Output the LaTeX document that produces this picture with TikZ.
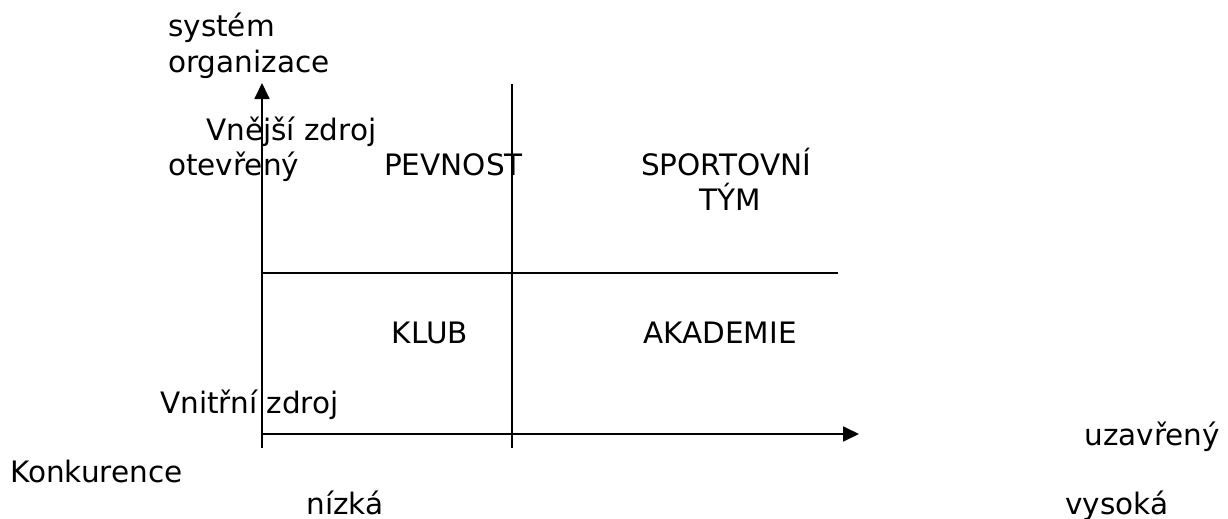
\documentclass[tikz,border=0pt]{standalone}
\usepackage{fontspec}
\setmainfont{DejaVu Sans}
\usetikzlibrary{arrows.meta}
\tikzset{
  every picture/.style={line join=round, >={Triangle[length=16pt,width=15pt]}},
  axis/.style={line width=1.8pt},
  label/.style={inner sep=0pt, font=\fontsize{29.5}{34}\selectfont},
}

\begin{document}
\begin{tikzpicture}[x=1pt,y=-1pt]
\useasboundingbox (0,0) rectangle (1228,519);
% axes
\coordinate (o) at (262,434);
\coordinate (ytop) at (262,83);
\coordinate (ybot) at (262,448);
\coordinate (xend) at (859,434);
\coordinate (xbeg) at (262,434);
\draw[axis,->] (ybot) -- (ytop);
\draw[axis,->] (xbeg) -- (xend);
% dividers
\coordinate (vtop) at (512,84);
\coordinate (vbot) at (512,448);
\coordinate (hleft) at (262,273);
\coordinate (hright) at (838,273);
\draw[axis] (vtop) -- (vbot);
\draw[axis] (hleft) -- (hright);
% axis labels
\node[label,anchor=base west] (sys) at (168,37) {systém};
\node[label,anchor=base west] (org) at (168,72) {organizace};
\node[label,anchor=base west] (vne) at (206,140) {Vnější zdroj};
\node[label,anchor=base west] (ote) at (168,175) {otevřený};
\node[label,anchor=base west] (vni) at (160,413) {Vnitřní zdroj};
\node[label,anchor=base east] (uza) at (1220,445) {uzavřený};
\node[label,anchor=base west] (kon) at (10,482) {Konkurence};
\node[label,anchor=base] (niz) at (345,514) {nízká};
\node[label,anchor=base] (vys) at (1117,514) {vysoká};
% quadrants
\node[label,anchor=base west] (pev) at (384,175) {PEVNOST};
\node[label,anchor=base west] (spo) at (641,175) {SPORTOVNÍ};
\node[label,anchor=base] (tym) at (730,210) {TÝM};
\node[label,anchor=base] (klub) at (430,343) {KLUB};
\node[label,anchor=base] (aka) at (720,343) {AKADEMIE};
\end{tikzpicture}
\end{document}
